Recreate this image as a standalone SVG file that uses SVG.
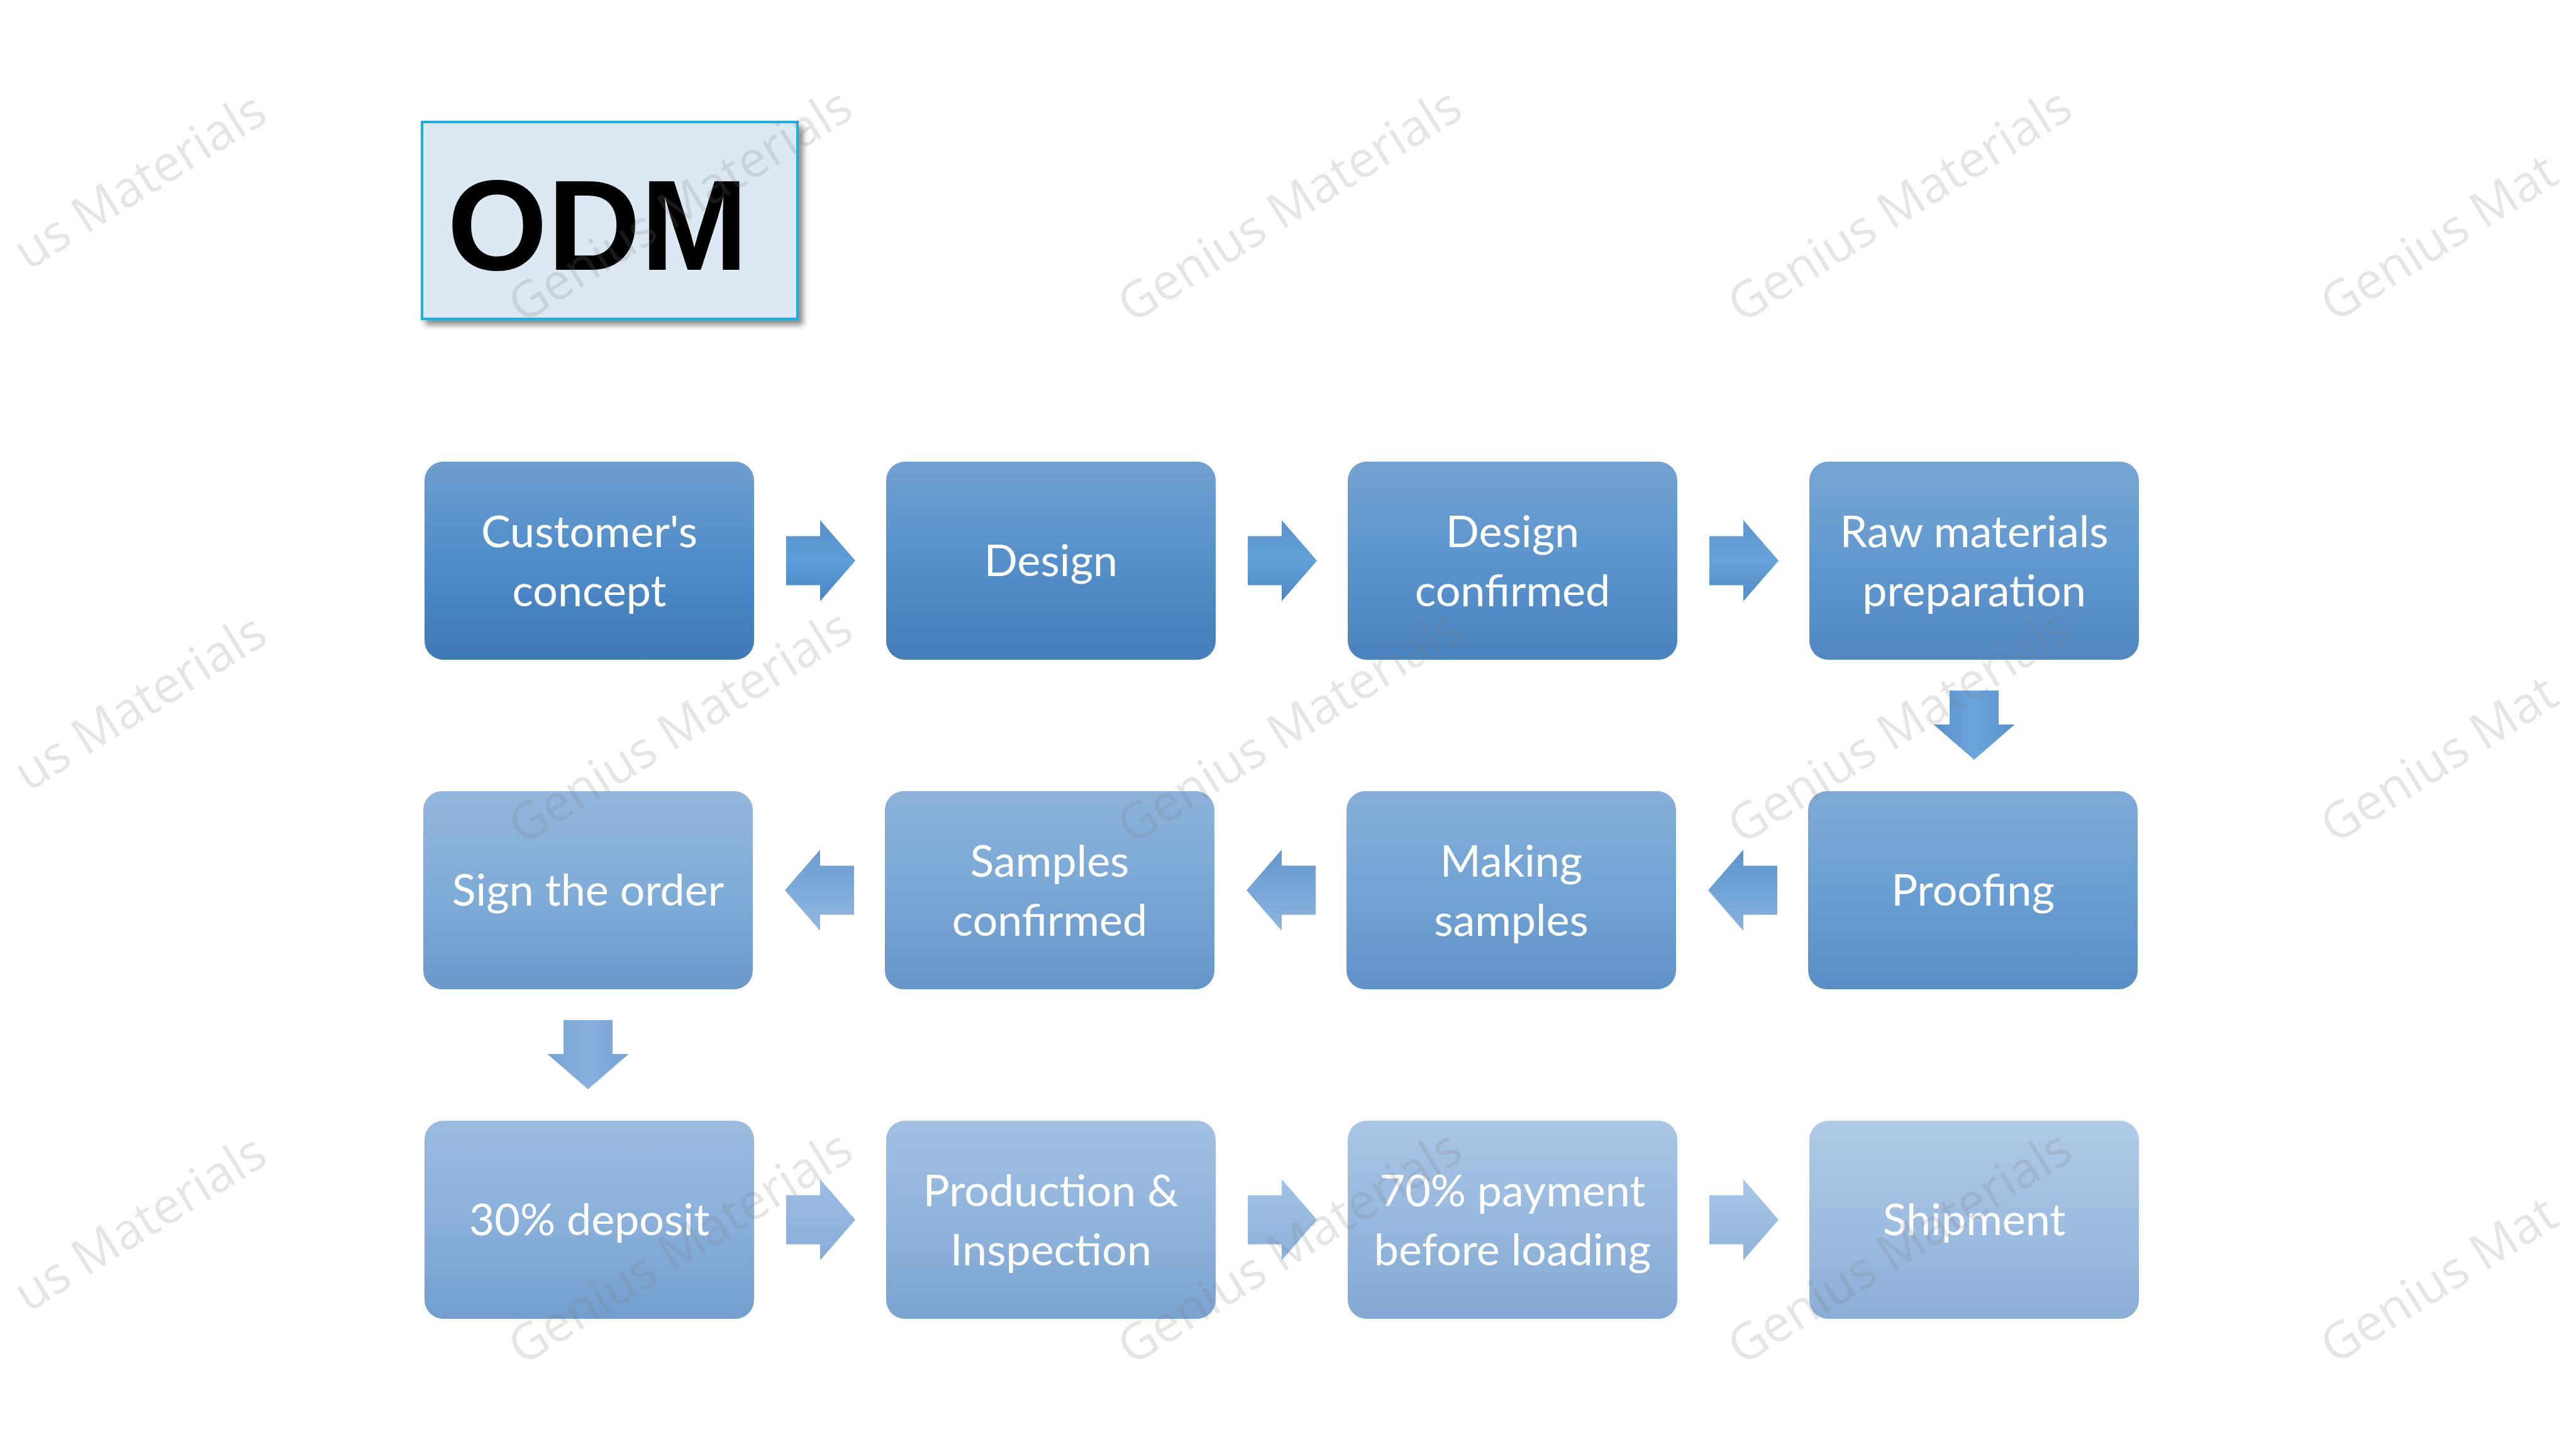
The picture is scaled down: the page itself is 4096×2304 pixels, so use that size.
<svg xmlns="http://www.w3.org/2000/svg" xmlns:xlink="http://www.w3.org/1999/xlink" width="4096" height="2304" viewBox="0 0 4096 2304">
<style>
.lbl{font-family:Lato,"Open Sans","Liberation Sans",sans-serif;font-size:70px;fill:#ffffff;text-anchor:middle}
.wm{font-family:"Open Sans",Lato,"Liberation Sans",sans-serif;font-size:80px;fill:#7f7f7f;fill-opacity:0.2;text-anchor:middle}
.wl{text-anchor:end}
.wr{text-anchor:start}
.title{font-family:"Liberation Sans",Arial,sans-serif;font-weight:bold;font-size:205px;fill:#000000}
</style>
<defs>
<filter id="sh" x="-10%" y="-10%" width="130%" height="130%">
<feDropShadow dx="7" dy="8" stdDeviation="5" flood-color="#000" flood-opacity="0.45"/>
</filter>
<path id="arr" d="M0,-39 H54 V-64.5 L110,0 L54,64.5 V39 H0 Z"/>
<linearGradient id="n1" x1="0" y1="0" x2="0" y2="1"><stop offset="0" stop-color="#6E9ECF"/><stop offset="0.5" stop-color="#4F8CC9"/><stop offset="1" stop-color="#3F79B6"/></linearGradient>
<linearGradient id="n2" x1="0" y1="0" x2="0" y2="1"><stop offset="0" stop-color="#70A0D0"/><stop offset="0.5" stop-color="#5590CB"/><stop offset="1" stop-color="#447DB9"/></linearGradient>
<linearGradient id="n3" x1="0" y1="0" x2="0" y2="1"><stop offset="0" stop-color="#74A2D1"/><stop offset="0.5" stop-color="#5A94CD"/><stop offset="1" stop-color="#4A82BE"/></linearGradient>
<linearGradient id="n4" x1="0" y1="0" x2="0" y2="1"><stop offset="0" stop-color="#78A6D3"/><stop offset="0.5" stop-color="#6098CF"/><stop offset="1" stop-color="#5287C2"/></linearGradient>
<linearGradient id="n5" x1="0" y1="0" x2="0" y2="1"><stop offset="0" stop-color="#80AAD5"/><stop offset="0.5" stop-color="#6A9FD3"/><stop offset="1" stop-color="#5A8DC5"/></linearGradient>
<linearGradient id="n6" x1="0" y1="0" x2="0" y2="1"><stop offset="0" stop-color="#86AED7"/><stop offset="0.5" stop-color="#72A4D5"/><stop offset="1" stop-color="#6091C8"/></linearGradient>
<linearGradient id="n7" x1="0" y1="0" x2="0" y2="1"><stop offset="0" stop-color="#8DB2DA"/><stop offset="0.5" stop-color="#79A8D6"/><stop offset="1" stop-color="#6695C9"/></linearGradient>
<linearGradient id="n8" x1="0" y1="0" x2="0" y2="1"><stop offset="0" stop-color="#94B6DC"/><stop offset="0.5" stop-color="#80ACD8"/><stop offset="1" stop-color="#6C99CB"/></linearGradient>
<linearGradient id="n9" x1="0" y1="0" x2="0" y2="1"><stop offset="0" stop-color="#9CBCE0"/><stop offset="0.5" stop-color="#8AB0DB"/><stop offset="1" stop-color="#739ECD"/></linearGradient>
<linearGradient id="n10" x1="0" y1="0" x2="0" y2="1"><stop offset="0" stop-color="#A3C0E2"/><stop offset="0.5" stop-color="#90B4DC"/><stop offset="1" stop-color="#7AA3D0"/></linearGradient>
<linearGradient id="n11" x1="0" y1="0" x2="0" y2="1"><stop offset="0" stop-color="#AAC5E5"/><stop offset="0.5" stop-color="#97B8DE"/><stop offset="1" stop-color="#82A8D3"/></linearGradient>
<linearGradient id="n12" x1="0" y1="0" x2="0" y2="1"><stop offset="0" stop-color="#B0CAE7"/><stop offset="0.5" stop-color="#9FBDE1"/><stop offset="1" stop-color="#8BAED6"/></linearGradient>
<linearGradient id="a1" x1="0" y1="0" x2="0" y2="1"><stop offset="0" stop-color="#5890CA"/><stop offset="0.5" stop-color="#5E9DD7"/><stop offset="1" stop-color="#4A84C1"/></linearGradient>
<linearGradient id="a2" x1="0" y1="0" x2="0" y2="1"><stop offset="0" stop-color="#5B93CC"/><stop offset="0.5" stop-color="#62A0D8"/><stop offset="1" stop-color="#4E88C4"/></linearGradient>
<linearGradient id="a3" x1="0" y1="0" x2="0" y2="1"><stop offset="0" stop-color="#5E96CE"/><stop offset="0.5" stop-color="#66A2D9"/><stop offset="1" stop-color="#528BC6"/></linearGradient>
<linearGradient id="a4" x1="0" y1="0" x2="0" y2="1"><stop offset="0" stop-color="#5A90CA"/><stop offset="0.5" stop-color="#6CA5DB"/><stop offset="1" stop-color="#5A90CA"/></linearGradient>
<linearGradient id="a5" x1="0" y1="0" x2="0" y2="1"><stop offset="0" stop-color="#8AB1DD"/><stop offset="0.5" stop-color="#6FA3D7"/><stop offset="1" stop-color="#5E93CC"/></linearGradient>
<linearGradient id="a6" x1="0" y1="0" x2="0" y2="1"><stop offset="0" stop-color="#90B4DE"/><stop offset="0.5" stop-color="#76A7D8"/><stop offset="1" stop-color="#6597CE"/></linearGradient>
<linearGradient id="a7" x1="0" y1="0" x2="0" y2="1"><stop offset="0" stop-color="#95B8E0"/><stop offset="0.5" stop-color="#7DABDA"/><stop offset="1" stop-color="#6C9BD0"/></linearGradient>
<linearGradient id="a8" x1="0" y1="0" x2="0" y2="1"><stop offset="0" stop-color="#76A0D2"/><stop offset="0.5" stop-color="#88B1DE"/><stop offset="1" stop-color="#76A0D2"/></linearGradient>
<linearGradient id="a9" x1="0" y1="0" x2="0" y2="1"><stop offset="0" stop-color="#9CBBE1"/><stop offset="0.5" stop-color="#93B6DF"/><stop offset="1" stop-color="#86ACD8"/></linearGradient>
<linearGradient id="a10" x1="0" y1="0" x2="0" y2="1"><stop offset="0" stop-color="#A2C0E3"/><stop offset="0.5" stop-color="#98BAE0"/><stop offset="1" stop-color="#8BB0DA"/></linearGradient>
<linearGradient id="a11" x1="0" y1="0" x2="0" y2="1"><stop offset="0" stop-color="#A8C4E5"/><stop offset="0.5" stop-color="#9DBEE2"/><stop offset="1" stop-color="#90B3DB"/></linearGradient>
</defs>
<rect width="4096" height="2304" fill="#ffffff"/>

<g id="title">
<rect x="671" y="194" width="597" height="313" fill="#DCE8F4" stroke="#17B0E3" stroke-width="4" filter="url(#sh)"/>
<text class="title" x="711" y="429">ODM</text>
</g>

<g id="connectors">
<use xlink:href="#arr" href="#arr" transform="translate(1250,891.5)" fill="url(#a1)"/>
<use xlink:href="#arr" href="#arr" transform="translate(1984,891.5)" fill="url(#a2)"/>
<use xlink:href="#arr" href="#arr" transform="translate(2718,891.5)" fill="url(#a3)"/>
<use xlink:href="#arr" href="#arr" transform="translate(3139,1098) rotate(90)" fill="url(#a4)"/>
<use xlink:href="#arr" href="#arr" transform="translate(2826,1415.5) rotate(180)" fill="url(#a5)"/>
<use xlink:href="#arr" href="#arr" transform="translate(2092,1415.5) rotate(180)" fill="url(#a6)"/>
<use xlink:href="#arr" href="#arr" transform="translate(1358,1415.5) rotate(180)" fill="url(#a7)"/>
<use xlink:href="#arr" href="#arr" transform="translate(935,1622) rotate(90)" fill="url(#a8)"/>
<use xlink:href="#arr" href="#arr" transform="translate(1250,1939.5)" fill="url(#a9)"/>
<use xlink:href="#arr" href="#arr" transform="translate(1984,1939.5)" fill="url(#a10)"/>
<use xlink:href="#arr" href="#arr" transform="translate(2718,1939.5)" fill="url(#a11)"/>
</g>

<g id="node-customers-concept">
<rect x="675" y="734" width="524" height="315" rx="30" fill="url(#n1)"/>
<text class="lbl" x="937" y="870">Customer's</text>
<text class="lbl" x="937" y="964">concept</text>
</g>
<g id="node-design">
<rect x="1409" y="734" width="524" height="315" rx="30" fill="url(#n2)"/>
<text class="lbl" x="1671" y="916">Design</text>
</g>
<g id="node-design-confirmed">
<rect x="2143" y="734" width="524" height="315" rx="30" fill="url(#n3)"/>
<text class="lbl" x="2405" y="870">Design</text>
<text class="lbl" x="2405" y="964">confirmed</text>
</g>
<g id="node-raw-materials">
<rect x="2877" y="734" width="524" height="315" rx="30" fill="url(#n4)"/>
<text class="lbl" x="3139" y="870">Raw materials</text>
<text class="lbl" x="3139" y="964">preparation</text>
</g>
<g id="node-proofing">
<rect x="2875" y="1258" width="524" height="315" rx="30" fill="url(#n5)"/>
<text class="lbl" x="3137" y="1440">Proofing</text>
</g>
<g id="node-making-samples">
<rect x="2141" y="1258" width="524" height="315" rx="30" fill="url(#n6)"/>
<text class="lbl" x="2403" y="1394">Making</text>
<text class="lbl" x="2403" y="1488">samples</text>
</g>
<g id="node-samples-confirmed">
<rect x="1407" y="1258" width="524" height="315" rx="30" fill="url(#n7)"/>
<text class="lbl" x="1669" y="1394">Samples</text>
<text class="lbl" x="1669" y="1488">confirmed</text>
</g>
<g id="node-sign-order">
<rect x="673" y="1258" width="524" height="315" rx="30" fill="url(#n8)"/>
<text class="lbl" x="935" y="1440">Sign the order</text>
</g>
<g id="node-deposit">
<rect x="675" y="1782" width="524" height="315" rx="30" fill="url(#n9)"/>
<text class="lbl" x="937" y="1964">30% deposit</text>
</g>
<g id="node-production">
<rect x="1409" y="1782" width="524" height="315" rx="30" fill="url(#n10)"/>
<text class="lbl" x="1671" y="1918">Production &amp;</text>
<text class="lbl" x="1671" y="2012">Inspection</text>
</g>
<g id="node-payment">
<rect x="2143" y="1782" width="524" height="315" rx="30" fill="url(#n11)"/>
<text class="lbl" x="2405" y="1918">70% payment</text>
<text class="lbl" x="2405" y="2012">before loading</text>
</g>
<g id="node-shipment">
<rect x="2877" y="1782" width="524" height="315" rx="30" fill="url(#n12)"/>
<text class="lbl" x="3139" y="1964">Shipment</text>
</g>

<g id="watermarks">
<text class="wm wl" transform="translate(160,326) rotate(-32)" x="300" y="28">us Materials</text>
<text class="wm" transform="translate(1081,326) rotate(-32)" y="28">Genius Materials</text>
<text class="wm" transform="translate(2050,326) rotate(-32)" y="28">Genius Materials</text>
<text class="wm" transform="translate(3020,326) rotate(-32)" y="28">Genius Materials</text>
<text class="wm wr" transform="translate(3960,326) rotate(-32)" x="-310" y="28">Genius Mat</text>
<text class="wm wl" transform="translate(160,1155) rotate(-32)" x="300" y="28">us Materials</text>
<text class="wm" transform="translate(1081,1155) rotate(-32)" y="28">Genius Materials</text>
<text class="wm" transform="translate(2050,1155) rotate(-32)" y="28">Genius Materials</text>
<text class="wm" transform="translate(3020,1155) rotate(-32)" y="28">Genius Materials</text>
<text class="wm wr" transform="translate(3960,1155) rotate(-32)" x="-310" y="28">Genius Mat</text>
<text class="wm wl" transform="translate(160,1983) rotate(-32)" x="300" y="28">us Materials</text>
<text class="wm" transform="translate(1081,1983) rotate(-32)" y="28">Genius Materials</text>
<text class="wm" transform="translate(2050,1983) rotate(-32)" y="28">Genius Materials</text>
<text class="wm" transform="translate(3020,1983) rotate(-32)" y="28">Genius Materials</text>
<text class="wm wr" transform="translate(3960,1983) rotate(-32)" x="-310" y="28">Genius Mat</text>
</g>
</svg>
